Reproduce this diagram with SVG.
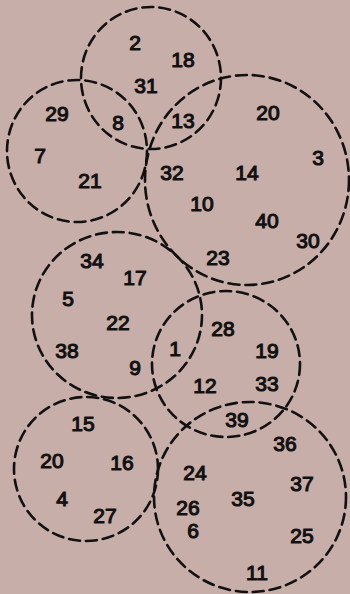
<svg xmlns="http://www.w3.org/2000/svg" width="350" height="594" viewBox="0 0 350 594">
<style>
.c{fill:none;stroke:#111;stroke-width:2.6;stroke-dasharray:11 6;stroke-linecap:round}
text{font-family:"Liberation Sans","DejaVu Sans",sans-serif;font-size:21px;fill:#111;text-anchor:middle;dominant-baseline:central;stroke:#111;stroke-width:1.1}
</style>
<rect width="350" height="594" fill="#c8aea8"/>
<g id="circles">
<g id="setA"><ellipse class="c" cx="151" cy="78" rx="70" ry="71"/></g>
<g id="setB"><ellipse class="c" cx="77" cy="151" rx="70" ry="71"/></g>
<g id="setC"><ellipse class="c" cx="247" cy="180" rx="102" ry="105"/></g>
<g id="setD"><ellipse class="c" cx="117" cy="315" rx="85" ry="83"/></g>
<g id="setE"><ellipse class="c" cx="226" cy="364" rx="74" ry="73"/></g>
<g id="setF"><ellipse class="c" cx="86" cy="469" rx="72" ry="72"/></g>
<g id="setG"><ellipse class="c" cx="250" cy="497" rx="96" ry="95"/></g>
</g>
<g id="labels">
<text x="135" y="42">2</text>
<text x="183" y="59">18</text>
<text x="146" y="85">31</text>
<text x="57" y="113">29</text>
<text x="118" y="122">8</text>
<text x="183" y="120">13</text>
<text x="268" y="112">20</text>
<text x="40" y="155">7</text>
<text x="318" y="157">3</text>
<text x="172" y="172">32</text>
<text x="247" y="172">14</text>
<text x="90" y="180">21</text>
<text x="202" y="203">10</text>
<text x="267" y="220">40</text>
<text x="308" y="240">30</text>
<text x="218" y="257">23</text>
<text x="92" y="260">34</text>
<text x="135" y="277">17</text>
<text x="68" y="298">5</text>
<text x="118" y="322">22</text>
<text x="223" y="328">28</text>
<text x="175" y="348">1</text>
<text x="267" y="350">19</text>
<text x="67" y="350">38</text>
<text x="135" y="367">9</text>
<text x="205" y="385">12</text>
<text x="267" y="383">33</text>
<text x="237" y="419">39</text>
<text x="83" y="423">15</text>
<text x="285" y="443">36</text>
<text x="52" y="460">20</text>
<text x="122" y="462">16</text>
<text x="195" y="472">24</text>
<text x="302" y="483">37</text>
<text x="243" y="498">35</text>
<text x="62" y="498">4</text>
<text x="188" y="507">26</text>
<text x="105" y="515">27</text>
<text x="193" y="530">6</text>
<text x="302" y="535">25</text>
<text x="257" y="572">11</text>
</g>
</svg>
